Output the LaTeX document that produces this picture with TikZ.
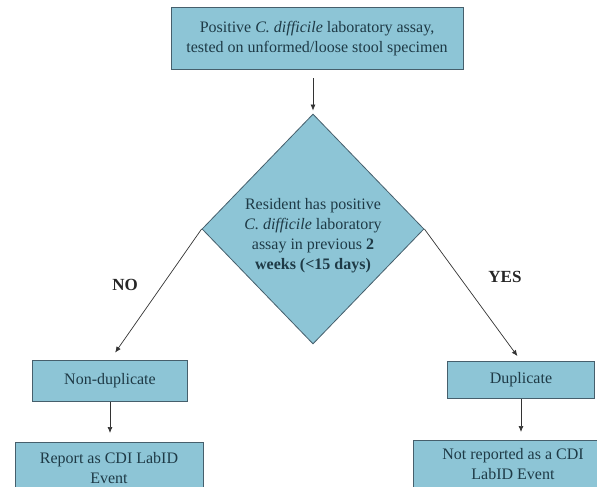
\documentclass[tikz,border=0pt]{standalone}
\usepackage{fontspec}
\setmainfont{Liberation Serif}
\usetikzlibrary{shapes.geometric,arrows.meta}

\definecolor{boxfill}{RGB}{141,197,214}
\definecolor{boxline}{RGB}{70,95,108}
\definecolor{boxtext}{RGB}{30,58,70}

\tikzset{
  stepbox/.style={draw=boxline,line width=1pt,fill=boxfill,text=boxtext,
    align=center,inner sep=2pt,font=\fontsize{16}{20}\selectfont},
  decision/.style={diamond,draw=boxline,line width=0.8pt,fill=boxfill,text=boxtext,
    align=center,inner sep=0pt,aspect=0.965,minimum width=222pt,minimum height=230pt,
    font=\fontsize{16}{20}\selectfont},
  arrow/.style={draw=black!80,line width=0.7pt,-{Latex[length=6pt,width=5pt]}},
  answer/.style={text=black!85,font=\fontsize{17}{18}\selectfont\bfseries}
}

\begin{document}
\begin{tikzpicture}[x=1pt,y=-1pt]
\useasboundingbox (0,0) rectangle (597,487);
\clip (0,0) rectangle (597,487);

\node[stepbox,minimum width=292pt,minimum height=62pt] (assay) at (317,39)
  {Positive \textit{C. difficile} laboratory assay,\\tested on unformed/loose stool specimen};

\node[decision] (check) at (313,229)
  {\rule{0pt}{24pt}Resident has positive\\\textit{C. difficile} laboratory\\assay in previous \textbf{2}\\\textbf{weeks (<15 days)}};

\node[answer] (no) at (125,285) {NO};
\node[answer] (yes) at (505,277) {YES};

\node[stepbox,minimum width=155pt,minimum height=41pt] (nondup) at (110,381) {Non-duplicate};
\node[stepbox,minimum width=147pt,minimum height=37pt] (dup) at (521,380) {Duplicate};

\node[stepbox,minimum width=188pt,anchor=north] (report) at (109,442)
  {\rule{0pt}{19pt}Report as CDI LabID\\Event\rule[-16pt]{0pt}{0pt}};
\node[stepbox,minimum width=200pt,anchor=north] (notrep) at (513,440)
  {\rule{0pt}{17pt}Not reported as a CDI\\LabID Event\rule[-16pt]{0pt}{0pt}};

\draw[arrow,shorten <=8pt,shorten >=3pt] (check.north |- assay.south) -- (check.north);
\draw[arrow,shorten >=9pt] (check.west) -- (nondup.north);
\draw[arrow,shorten >=6pt] (check.east) -- (dup.north);
\draw[arrow,shorten >=9pt] (nondup.south) -- (nondup.south |- report.north);
\draw[arrow,shorten >=8pt] (dup.south) -- (dup.south |- notrep.north);

\end{tikzpicture}
\end{document}
